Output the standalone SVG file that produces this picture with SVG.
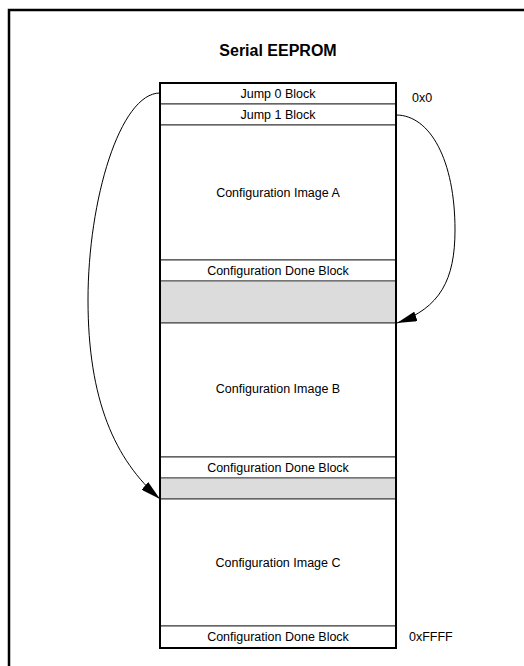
<svg xmlns="http://www.w3.org/2000/svg" width="524" height="666" viewBox="0 0 524 666">
<style>
text{font-family:"Liberation Sans",Arial,sans-serif;fill:#000}
.t{font-size:12.5px;text-anchor:middle}
.a{font-size:12.5px}
.title{font-size:16px;font-weight:bold;text-anchor:middle}
.blk{fill:#fff;stroke:#333;stroke-width:1}
.gray{fill:#dcdcdc;stroke:#555;stroke-width:1}
.conn{fill:none;stroke:#000;stroke-width:1}
</style>
<defs>
<marker id="ah" markerWidth="20" markerHeight="10" refX="20" refY="5" orient="auto" markerUnits="userSpaceOnUse">
<path d="M0,0 L20,5 L0,10 Z" fill="#000"/>
</marker>
</defs>
<rect width="524" height="666" fill="#fff"/>
<polyline points="9,666 9,10 524,10" fill="none" stroke="#000" stroke-width="2.5"/>
<text class="title" x="278" y="56">Serial EEPROM</text>
<g id="memory">
<rect x="160" y="83" width="236" height="565" fill="#fff" stroke="none"/>
</g>
<g id="jump0"><rect class="blk" x="160" y="83" width="236" height="21"/><text class="t" x="278" y="98">Jump 0 Block</text></g>
<g id="jump1"><rect class="blk" x="160" y="104" width="236" height="21"/><text class="t" x="278" y="119">Jump 1 Block</text></g>
<g id="imageA"><rect class="blk" x="160" y="125" width="236" height="135"/><text class="t" x="278" y="197">Configuration Image A</text></g>
<g id="doneA"><rect class="blk" x="160" y="260" width="236" height="21"/><text class="t" x="278" y="275">Configuration Done Block</text></g>
<g id="gapA"><rect class="gray" x="160" y="281" width="236" height="42"/></g>
<g id="imageB"><rect class="blk" x="160" y="323" width="236" height="134"/><text class="t" x="278" y="393">Configuration Image B</text></g>
<g id="doneB"><rect class="blk" x="160" y="457" width="236" height="21"/><text class="t" x="278" y="472">Configuration Done Block</text></g>
<g id="gapB"><rect class="gray" x="160" y="478" width="236" height="21"/></g>
<g id="imageC"><rect class="blk" x="160" y="499" width="236" height="127"/><text class="t" x="278" y="567">Configuration Image C</text></g>
<g id="doneC"><rect class="blk" x="160" y="626" width="236" height="22"/><text class="t" x="278" y="641">Configuration Done Block</text></g>
<g id="outline"><rect x="160" y="83" width="236" height="565" fill="none" stroke="#000" stroke-width="2"/></g>
<g id="addr0"><text class="a" x="412" y="102">0x0</text></g>
<g id="addrF"><text class="a" x="409" y="641">0xFFFF</text></g>
<g id="connectors">
<path class="conn" d="M160,93 C120,93 88,200 88,300 C88,400 115,460 160,499" marker-end="url(#ah)"/>
<path class="conn" d="M396,115 C430,115 455,160 455,230 C455,280 440,308 397,323" marker-end="url(#ah)"/>
</g>
</svg>
